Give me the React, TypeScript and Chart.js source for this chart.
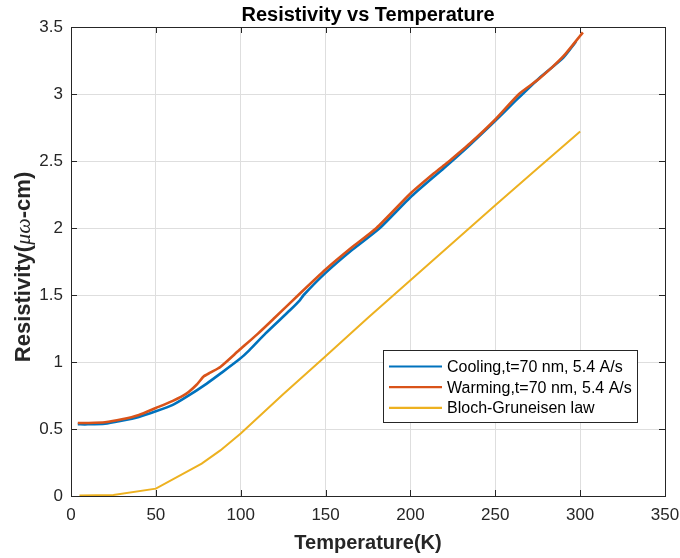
import React, { useEffect, useRef } from "react";
import { Chart, registerables } from "chart.js";

Chart.register(...registerables);

const coolT = [4, 10, 20, 29, 40, 50, 60, 68, 80, 88, 99, 105, 114.5, 129, 134.8, 137.1, 150, 165, 182, 200, 220, 235, 250, 262, 276, 290, 297.5];
const coolR = [0.535, 0.535, 0.54, 0.56, 0.59, 0.632, 0.68, 0.739, 0.839, 0.913, 1.018, 1.087, 1.212, 1.386, 1.46, 1.5, 1.665, 1.83, 2.0, 2.23, 2.45, 2.62, 2.8, 2.95, 3.12, 3.27, 3.39];

const warmT = [4, 10, 20, 30, 40, 50, 60, 68, 74, 78, 82, 88, 99, 110, 120, 134, 150, 165, 180, 200, 215, 220, 223, 235, 250, 264, 276, 290, 301.6];
const warmR = [0.545, 0.545, 0.55, 0.572, 0.605, 0.657, 0.71, 0.764, 0.83, 0.89, 0.92, 0.963, 1.087, 1.21, 1.33, 1.5, 1.69, 1.85, 2.0, 2.257, 2.42, 2.47, 2.5, 2.63, 2.81, 3.0, 3.115, 3.28, 3.46];

const bgT = [5, 25, 50, 77, 88, 100, 125, 150, 175, 200, 225, 250, 275, 300];
const bgR = [0.003, 0.008, 0.055, 0.242, 0.34, 0.466, 0.76, 1.043, 1.33, 1.61, 1.89, 2.17, 2.445, 2.72];

const seriesLabels = ["Cooling,t=70 nm, 5.4 A/s", "Warming,t=70 nm, 5.4 A/s", "Bloch-Gruneisen law"];
const seriesColors = ["#0072BD", "#D95319", "#EDB120"];

const xTicks = [0, 50, 100, 150, 200, 250, 300, 350];
const yTicks = [0, 0.5, 1, 1.5, 2, 2.5, 3, 3.5];

const titleText = "Resistivity vs Temperature";
const xTitle = "Temperature(K)";
const yTitleParts = [
  { text: "Resistivity(", style: "bold" },
  { text: "μω", style: "italic" },
  { text: "-cm)", style: "bold" },
];

const FAMILY = "'Liberation Sans', Arial, Helvetica, sans-serif";
const AXIS = "#262626";

const toPts = (xs: number[], ys: number[]) => xs.map((x, i) => ({ x, y: ys[i] }));

const decorPlugin = {
  id: "decor",
  afterDraw(chart: any) {
    const { ctx, chartArea: a, scales } = chart;
    const xs = scales.x;
    const ys = scales.y;
    ctx.save();
    ctx.strokeStyle = AXIS;
    ctx.lineWidth = 1;
    ctx.strokeRect(Math.round(a.left) + 0.5, Math.round(a.top) + 0.5, Math.round(a.right - a.left), Math.round(a.bottom - a.top));
    const tl = 6;
    ctx.beginPath();
    xTicks.forEach((v) => {
      const px = Math.round(xs.getPixelForValue(v)) + 0.5;
      ctx.moveTo(px, a.bottom);
      ctx.lineTo(px, a.bottom - tl);
      ctx.moveTo(px, a.top);
      ctx.lineTo(px, a.top + tl);
    });
    yTicks.forEach((v) => {
      const py = Math.round(ys.getPixelForValue(v)) + 0.5;
      ctx.moveTo(a.left, py);
      ctx.lineTo(a.left + tl, py);
      ctx.moveTo(a.right, py);
      ctx.lineTo(a.right - tl, py);
    });
    ctx.stroke();

    const cx = (a.left + a.right) / 2;
    ctx.fillStyle = "#000";
    ctx.font = `bold 20px ${FAMILY}`;
    ctx.textAlign = "center";
    ctx.textBaseline = "middle";
    ctx.fillText(titleText, cx, 15);

    ctx.fillStyle = AXIS;
    ctx.font = `bold 20px ${FAMILY}`;
    ctx.fillText(xTitle, cx, 543);

    const fonts: Record<string, string> = {
      bold: `bold 22px ${FAMILY}`,
      italic: `italic 22px 'Liberation Serif', 'DejaVu Serif', serif`,
    };
    let total = 0;
    const widths = yTitleParts.map((p) => {
      ctx.font = fonts[p.style];
      const w = ctx.measureText(p.text).width;
      total += w;
      return w;
    });
    ctx.save();
    ctx.translate(24, 267);
    ctx.rotate(-Math.PI / 2);
    ctx.textAlign = "left";
    let off = -total / 2;
    yTitleParts.forEach((p, i) => {
      ctx.font = fonts[p.style];
      ctx.fillText(p.text, off, 0);
      off += widths[i];
    });
    ctx.restore();

    const lx = 383, ly = 350, lw = 254, lh = 72;
    ctx.fillStyle = "#fff";
    ctx.fillRect(lx, ly, lw, lh);
    ctx.strokeStyle = AXIS;
    ctx.lineWidth = 1;
    ctx.strokeRect(lx + 0.5, ly + 0.5, lw, lh);
    ctx.font = `16px ${FAMILY}`;
    ctx.textAlign = "left";
    ctx.textBaseline = "middle";
    seriesLabels.forEach((lab, i) => {
      const y = ly + 16.5 + i * 20.7;
      ctx.strokeStyle = seriesColors[i];
      ctx.lineWidth = 2.2;
      ctx.beginPath();
      ctx.moveTo(389, y);
      ctx.lineTo(442, y);
      ctx.stroke();
      ctx.fillStyle = "#000";
      ctx.fillText(lab, 447, y + 1);
    });
    ctx.restore();
  },
};

export default function App() {
  const ref = useRef<HTMLCanvasElement | null>(null);
  useEffect(() => {
    if (!ref.current) return;
    const chart = new Chart(ref.current, {
      type: "line",
      data: {
        datasets: [
          { label: seriesLabels[0], data: toPts(coolT, coolR), borderColor: seriesColors[0], borderWidth: 2.6, pointRadius: 0, order: 1, tension: 0.2 },
          { label: seriesLabels[1], data: toPts(warmT, warmR), borderColor: seriesColors[1], borderWidth: 2.6, pointRadius: 0, order: 0, tension: 0.2 },
          { label: seriesLabels[2], data: toPts(bgT, bgR), borderColor: seriesColors[2], borderWidth: 2, pointRadius: 0, order: 2, tension: 0 },
        ],
      },
      options: {
        animation: false,
        responsive: false,
        devicePixelRatio: 1,
        layout: { autoPadding: false, padding: { top: 27, right: 15, left: 0, bottom: 0 } },
        plugins: { legend: { display: false }, title: { display: false }, tooltip: { enabled: false } },
        scales: {
          x: {
            type: "linear",
            min: 0,
            max: 350,
            afterBuildTicks: (s: any) => { s.ticks = xTicks.map((v) => ({ value: v })); },
            afterFit: (s: any) => { s.height = 62; s.paddingLeft = 0; s.paddingRight = 0; },
            ticks: { font: { size: 17, family: FAMILY }, color: AXIS, padding: 9, maxRotation: 0, callback: (v: any) => String(v) },
            grid: { color: "#dedede", drawTicks: false },
            border: { display: false },
          },
          y: {
            type: "linear",
            min: 0,
            max: 3.5,
            afterBuildTicks: (s: any) => { s.ticks = yTicks.map((v) => ({ value: v })); },
            afterFit: (s: any) => { s.width = 71; s.paddingTop = 0; s.paddingBottom = 0; },
            ticks: { font: { size: 17, family: FAMILY }, color: AXIS, padding: 8, callback: (v: any) => String(v) },
            grid: { color: "#dedede", drawTicks: false },
            border: { display: false },
          },
        },
      },
      plugins: [decorPlugin],
    } as any);
    return () => chart.destroy();
  }, []);
  return (
    <div style={{ position: "fixed", left: 0, top: 0, width: 680, height: 558, background: "#fff" }}>
      <canvas ref={ref} width={680} height={558} style={{ width: 680, height: 558, display: "block" }} />
    </div>
  );
}
